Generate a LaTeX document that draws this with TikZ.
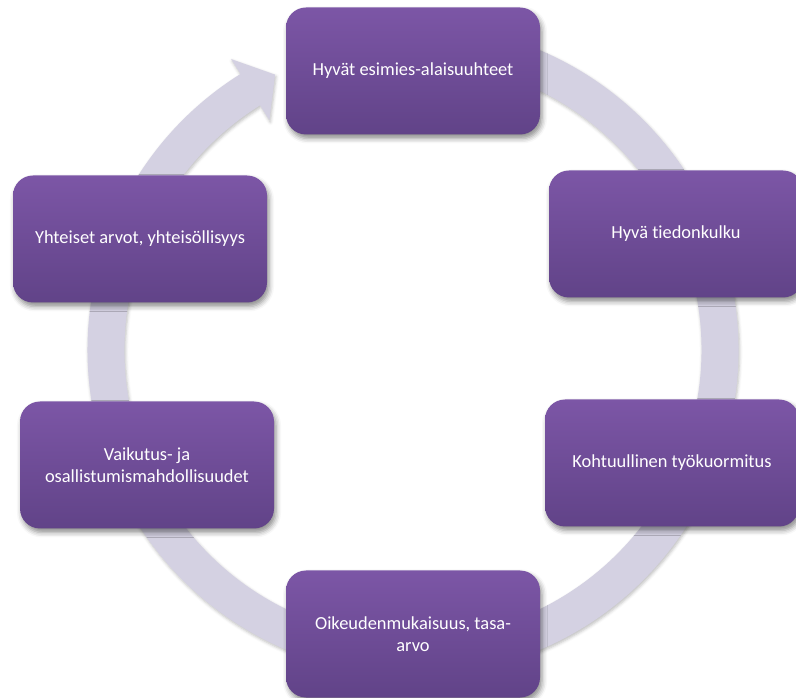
\documentclass[tikz,border=0pt]{standalone}
\usepackage{fontspec}
\setmainfont{Carlito}[Ligatures={NoCommon,NoContextual}, RawFeature={-calt}]
\usepackage{tikz}
\usepackage{xcolor}
\usetikzlibrary{positioning,shadows.blur}

\definecolor{ringgrey}{RGB}{212,209,226}
\definecolor{boxtop}{RGB}{124,86,166}
\definecolor{boxbot}{RGB}{97,67,136}

\begin{document}
\begin{tikzpicture}[x=1pt, y=1pt,
    item/.style={rectangle, rounded corners=20pt, minimum width=254pt, minimum height=127pt,
      top color=boxtop, bottom color=boxbot, text=white, align=center, inner sep=0pt,
      font=\fontsize{18.4}{22}\selectfont,
      blur shadow={shadow xshift=2pt, shadow yshift=-4pt, shadow blur radius=5pt, shadow opacity=45}},
    ring/.style={fill=ringgrey,
      blur shadow={shadow xshift=1pt, shadow yshift=-2pt, shadow blur radius=3pt, shadow opacity=25}}]
      %\draw [dotted] (0,0) grid [step=50] (796,697);
      \useasboundingbox (0,0) rectangle (796,697);
      % ring, clockwise, head at the top left
      \fill [ring, shift={(413,347)}] (100:325.5) arc [start angle=100, end angle=-238, radius=325.5]
            -- (-238:343) -- (-243.4:308) -- (-238:271)
            -- (-238:288.5) arc [start angle=-238, end angle=100, radius=288.5] -- cycle;
      \node [item]  (esimies) at (413, 626) {Hyvät esimies-alaisuuhteet};
      \node [item]    (tieto) at (676, 463) {Hyvä tiedonkulku};
      \node [item]   (kuorma) at (672, 234) {Kohtuullinen työkuormitus};
      \node [item]   (oikeus) at (413,  63) {Oikeudenmukaisuus, tasa-\\arvo};
      \node [item] (vaikutus) at (147, 232) {Vaikutus- ja\\osallistumismahdollisuudet};
      \node [item]    (arvot) at (140, 458) {Yhteiset arvot, yhteisöllisyys};
\end{tikzpicture}
\end{document}
